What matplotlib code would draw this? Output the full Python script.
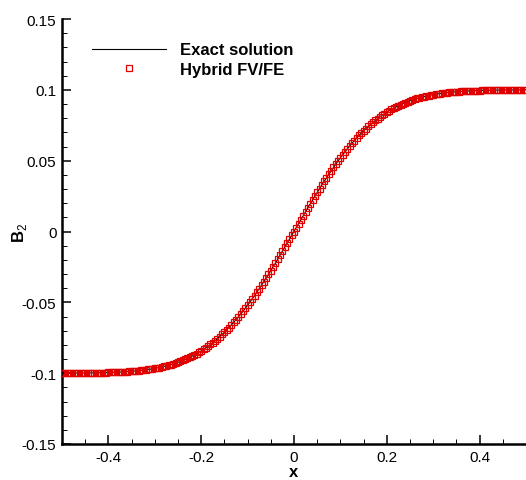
import numpy as np
import matplotlib
matplotlib.use("Agg")
import matplotlib.pyplot as plt
from matplotlib.ticker import FixedLocator, MultipleLocator, FixedFormatter

# grid of sample points along x
x_values = np.linspace(-0.5, 0.5, 201)

# B2 (exact and hybrid curves coincide)
b2_values = [
    -0.1000, -0.1000, -0.0999, -0.0999, -0.0999, -0.0999, -0.0999, -0.0999, -0.0999, -0.0999,
    -0.0999, -0.0998, -0.0998, -0.0998, -0.0998, -0.0997, -0.0997, -0.0997, -0.0996, -0.0996,
    -0.0995, -0.0995, -0.0994, -0.0993, -0.0993, -0.0992, -0.0991, -0.0990, -0.0989, -0.0988,
    -0.0987, -0.0985, -0.0984, -0.0982, -0.0980, -0.0978, -0.0976, -0.0974, -0.0972, -0.0969,
    -0.0966, -0.0963, -0.0960, -0.0956, -0.0952, -0.0948, -0.0944, -0.0939, -0.0934, -0.0928,
    -0.0923, -0.0917, -0.0910, -0.0903, -0.0896, -0.0888, -0.0880, -0.0871, -0.0862, -0.0853,
    -0.0843, -0.0832, -0.0821, -0.0809, -0.0797, -0.0784, -0.0771, -0.0756, -0.0742, -0.0727,
    -0.0711, -0.0694, -0.0678, -0.0660, -0.0642, -0.0623, -0.0604, -0.0584, -0.0563, -0.0542,
    -0.0521, -0.0498, -0.0475, -0.0452, -0.0428, -0.0404, -0.0379, -0.0354, -0.0329, -0.0302,
    -0.0276, -0.0250, -0.0223, -0.0195, -0.0168, -0.0140, -0.0112, -0.0084, -0.0056, -0.0028,
    0.0000,
    0.0028, 0.0056, 0.0084, 0.0112, 0.0140, 0.0168, 0.0195, 0.0223, 0.0250, 0.0276,
    0.0302, 0.0329, 0.0354, 0.0379, 0.0404, 0.0428, 0.0452, 0.0475, 0.0498, 0.0521,
    0.0542, 0.0563, 0.0584, 0.0604, 0.0623, 0.0642, 0.0660, 0.0678, 0.0694, 0.0711,
    0.0727, 0.0742, 0.0756, 0.0771, 0.0784, 0.0797, 0.0809, 0.0821, 0.0832, 0.0843,
    0.0853, 0.0862, 0.0871, 0.0880, 0.0888, 0.0896, 0.0903, 0.0910, 0.0917, 0.0923,
    0.0928, 0.0934, 0.0939, 0.0944, 0.0948, 0.0952, 0.0956, 0.0960, 0.0963, 0.0966,
    0.0969, 0.0972, 0.0974, 0.0976, 0.0978, 0.0980, 0.0982, 0.0984, 0.0985, 0.0987,
    0.0988, 0.0989, 0.0990, 0.0991, 0.0992, 0.0993, 0.0993, 0.0994, 0.0995, 0.0995,
    0.0996, 0.0996, 0.0997, 0.0997, 0.0997, 0.0998, 0.0998, 0.0998, 0.0998, 0.0999,
    0.0999, 0.0999, 0.0999, 0.0999, 0.0999, 0.0999, 0.0999, 0.0999, 0.1000, 0.1000,
]
b2_exact = b2_values
b2_hybrid = b2_values

x_ticks = [-0.4, -0.2, 0.0, 0.2, 0.4]
x_tick_labels = ["-0.4", "-0.2", "0", "0.2", "0.4"]
y_ticks = [-0.15, -0.1, -0.05, 0.0, 0.05, 0.1, 0.15]
y_tick_labels = ["-0.15", "-0.1", "-0.05", "0", "0.05", "0.1", "0.15"]

plt.rcParams['font.family'] = ['Liberation Sans', 'DejaVu Sans']
plt.rcParams['mathtext.fontset'] = 'custom'
plt.rcParams['mathtext.rm'] = 'Liberation Sans'
plt.rcParams['mathtext.bf'] = 'Liberation Sans:bold'
plt.rcParams['axes.unicode_minus'] = False

fig = plt.figure(figsize=(5.26, 4.81), dpi=100)
ax = fig.add_axes([62 / 526, 1 - 445 / 481, 1 - 62 / 526, (445 - 20) / 481])

ax.plot(x_values, b2_exact, color='black', linewidth=0.8, label='Exact solution', zorder=2)
ax.plot(x_values, b2_hybrid, linestyle='none', marker='s', markersize=4.2,
        markerfacecolor='none', markeredgecolor='#e00000', markeredgewidth=0.9,
        label='Hybrid FV/FE', zorder=3)

ax.set_xlim(-0.5, 0.5)
ax.set_ylim(-0.15, 0.15)

ax.xaxis.set_major_locator(FixedLocator(x_ticks))
ax.xaxis.set_major_formatter(FixedFormatter(x_tick_labels))
ax.xaxis.set_minor_locator(MultipleLocator(0.05))
ax.yaxis.set_major_locator(FixedLocator(y_ticks))
ax.yaxis.set_major_formatter(FixedFormatter(y_tick_labels))
ax.yaxis.set_minor_locator(MultipleLocator(0.01))

for side in ['top', 'right']:
    ax.spines[side].set_visible(False)
for side in ['left', 'bottom']:
    ax.spines[side].set_linewidth(1.8)

ax.tick_params(which='major', direction='in', length=6.5, width=1.1, labelsize=11, pad=4)
ax.tick_params(which='minor', direction='in', length=3.5, width=0.7)

ax.set_xlabel('x', fontsize=12, fontweight='bold', labelpad=0)
ax.set_ylabel(r'$\mathbf{B}_\mathrm{2}$', fontsize=12)
ax.yaxis.set_label_coords(-0.071, 0.5)

ax.legend(loc='upper left', bbox_to_anchor=(0.064, 0.945), frameon=False,
          borderpad=0, borderaxespad=0, handlelength=4.43, handletextpad=0.84,
          labelspacing=0.27, numpoints=1, markerscale=1.0,
          prop={'weight': 'bold', 'size': 12})

fig.savefig('out.png', dpi=100)
